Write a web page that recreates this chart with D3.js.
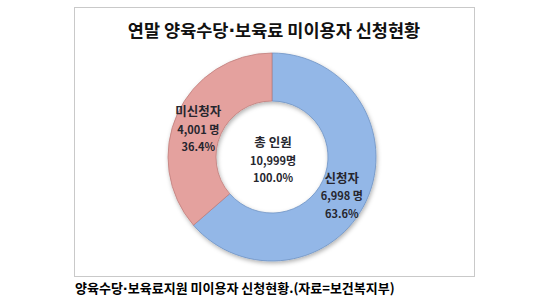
<!DOCTYPE html>
<html>
<head>
<meta charset="utf-8">
<script src="https://cdn.jsdelivr.net/npm/d3@7"></script>
<style>
  body { margin: 0; background: #fff; }
  text { font-family: "Noto Sans CJK KR", "Noto Sans", sans-serif; }
</style>
</head>
<body>
<div id="chart"></div>
<script>
// data
const categories = ["신청자", "미신청자"];
const counts = [6998, 4001];
const countLabels = ["6,998 명", "4,001 명"];
const percentLabels = ["63.6%", "36.4%"];
const totalLines = ["총 인원", "10,999명", "100.0%"];
const title = "연말 양육수당·보육료 미이용자 신청현황";
const caption = "양육수당·보육료지원 미이용자 신청현황.(자료=보건복지부)";

const width = 558, height = 303;
const cx = 272, cy = 157;
const outerR = 104, innerR = 56;
const colors = ["#93b7e7", "#e4a19e"];
const edge = ["#6f93c4", "#c07f7c"];

let svg = d3.select("#chart").append("svg")
    .attr("width", width)
    .attr("height", height);

let defs = svg.append("defs");
let f = defs.append("filter").attr("id", "shadow")
    .attr("x", "-20%").attr("y", "-20%").attr("width", "140%").attr("height", "140%");
f.append("feDropShadow").attr("dx", 1).attr("dy", 2).attr("stdDeviation", 2)
    .attr("flood-color", "#000").attr("flood-opacity", 0.3);

// the middle dot is narrow in the original, so draw it in a latin font
function addSplit(sel, str) {
    str.split("·").forEach((part, i) => {
        if (i > 0) sel.append("tspan").style("font-family", "DejaVu Sans").text("·");
        sel.append("tspan").text(part);
    });
}

// frame
svg.append("rect")
    .attr("x", 74.5).attr("y", 7.5)
    .attr("width", 400).attr("height", 269)
    .attr("fill", "#fff")
    .attr("stroke", "#c9c9c9");

let tt = svg.append("text")
    .attr("x", 274).attr("y", 37)
    .attr("text-anchor", "middle")
    .style("font-size", "17.5px")
    .style("font-weight", "bold")
    .attr("fill", "#111");
addSplit(tt, title);

let pie = d3.pie().sort(null).value(d => d)(counts);
let arc = d3.arc().innerRadius(innerR).outerRadius(outerR);

let g = svg.append("g").attr("transform", "translate(" + cx + "," + cy + ")");

g.append("g").attr("filter", "url(#shadow)")
    .selectAll("path")
    .data(pie)
    .enter().append("path")
    .attr("d", arc)
    .attr("fill", (d, i) => colors[i])
    .attr("stroke", (d, i) => edge[i])
    .attr("stroke-width", 0.8);

// slice labels
const offsets = [[-3, 6], [-1, 6]];
pie.forEach((d, i) => {
    let c = arc.centroid(d);
    let lines = [categories[i], countLabels[i], percentLabels[i]];
    let t = g.append("text")
        .attr("text-anchor", "middle")
        .style("font-weight", "bold")
        .attr("fill", "#26262e");
    lines.forEach((s, k) => {
        t.append("tspan")
            .attr("x", c[0] + offsets[i][0])
            .attr("y", c[1] + offsets[i][1] + (k - 1) * 17.5 + 4)
            .style("font-size", k === 0 ? "12.5px" : "11px")
            .text(s);
    });
});

// center label
let ct = g.append("text")
    .attr("text-anchor", "middle")
    .style("font-weight", "bold")
    .attr("fill", "#26262e");
totalLines.forEach((s, k) => {
    ct.append("tspan")
        .attr("x", 1)
        .attr("y", -14 + k * 17.5 + 4)
        .style("font-size", k === 0 ? "12.5px" : "11px")
        .text(s);
});

let cap = svg.append("text")
    .attr("x", 75).attr("y", 293)
    .style("font-size", "13px")
    .style("font-weight", "bold")
    .attr("fill", "#000");
addSplit(cap, caption);
</script>
</body>
</html>
